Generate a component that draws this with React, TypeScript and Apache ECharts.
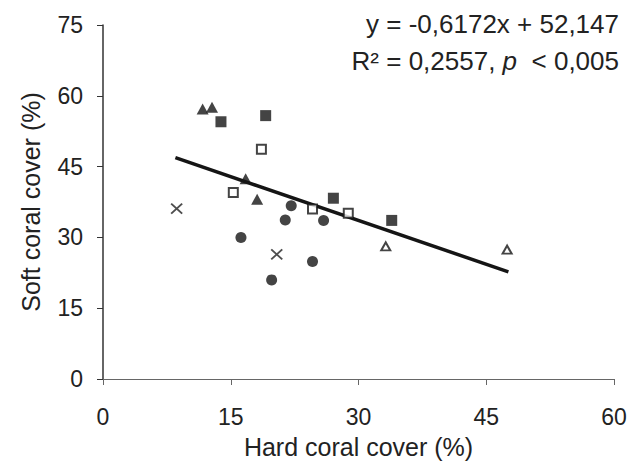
import React, { useEffect, useRef } from "react";
import * as echarts from "echarts";

const FONT = "'Liberation Sans', Arial, sans-serif";

const xTicks = [0, 15, 30, 45, 60];
const yTicks = [0, 15, 30, 45, 60, 75];

const filledTriangles: [number, number][] = [
  [11.7, 57.2],
  [12.8, 57.6],
  [16.75, 42.4],
  [18.1, 38.1],
];
const filledSquares: [number, number][] = [
  [13.85, 54.5],
  [19.1, 55.8],
  [27.05, 38.3],
  [33.9, 33.6],
];
const openSquares: [number, number][] = [
  [18.6, 48.7],
  [15.3, 39.5],
  [24.6, 36.0],
  [28.8, 35.1],
];
const crosses: [number, number][] = [
  [8.65, 36.1],
  [20.4, 26.4],
];
const circles: [number, number][] = [
  [22.1, 36.7],
  [21.4, 33.7],
  [25.9, 33.6],
  [16.2, 30.0],
  [24.6, 24.9],
  [19.8, 21.0],
];
const openTriangles: [number, number][] = [
  [33.2, 28.1],
  [47.45, 27.4],
];
const trendLine: [number, number][] = [
  [8.5, 46.9],
  [47.6, 22.7],
];

const equationText = "y = -0,6172x + 52,147";
const r2Text = "R² = 0,2557, {i|p}  < 0,005";

export default function App() {
  const ref = useRef<HTMLDivElement>(null);

  useEffect(() => {
    if (!ref.current) return;
    const chart = echarts.init(ref.current, undefined, { renderer: "svg" });
    const ink = "#151515";
    chart.setOption({
      animation: false,
      backgroundColor: "#ffffff",
      textStyle: { fontFamily: FONT },
      grid: { left: 103, right: 17, top: 25, bottom: 80, containLabel: false },
      xAxis: {
        type: "value",
        min: xTicks[0],
        max: xTicks[xTicks.length - 1],
        interval: 15,
        name: "Hard coral cover (%)",
        nameLocation: "middle",
        nameGap: 55,
        nameTextStyle: { fontSize: 25, color: "#222", fontFamily: FONT },
        axisLine: { show: true, onZero: false, lineStyle: { color: "#666", width: 1.2 } },
        axisTick: { show: true, inside: false, length: 6, lineStyle: { color: "#666" } },
        axisLabel: { fontSize: 23, color: "#222", margin: 26, fontFamily: FONT },
        splitLine: { show: false },
      },
      yAxis: {
        type: "value",
        min: yTicks[0],
        max: yTicks[yTicks.length - 1],
        interval: 15,
        name: "Soft coral cover (%)",
        nameLocation: "middle",
        nameGap: 60,
        nameRotate: 90,
        nameTextStyle: { fontSize: 25, color: "#222", fontFamily: FONT },
        axisLine: { show: true, onZero: false, lineStyle: { color: "#333", width: 1.5 } },
        axisTick: { show: true, inside: false, length: 6, lineStyle: { color: "#333" } },
        axisLabel: { fontSize: 23, color: "#222", margin: 20, fontFamily: FONT },
        splitLine: { show: false },
      },
      graphic: [
        {
          type: "text",
          right: 12,
          top: 11,
          style: {
            text: equationText,
            fontSize: 26,
            fontFamily: FONT,
            fill: "#222",
            align: "right",
          },
        },
        {
          type: "text",
          right: 12,
          top: 48,
          style: {
            text: r2Text,
            fontSize: 26,
            fontFamily: FONT,
            fill: "#222",
            align: "right",
            rich: {
              i: { fontStyle: "italic", fontSize: 26, fontFamily: FONT, fill: "#222" },
            },
          },
        },
      ],
      series: [
        {
          type: "line",
          data: trendLine,
          symbol: "none",
          lineStyle: { color: ink, width: 3.5 },
          z: 1,
        },
        {
          type: "scatter",
          data: filledTriangles,
          symbol: "triangle",
          symbolSize: [12, 11],
          itemStyle: { color: ink },
          z: 3,
        },
        {
          type: "scatter",
          data: filledSquares,
          symbol: "rect",
          symbolSize: 11,
          itemStyle: { color: ink },
          z: 3,
        },
        {
          type: "scatter",
          data: openSquares,
          symbol: "rect",
          symbolSize: 9,
          itemStyle: { color: "#ffffff", borderColor: ink, borderWidth: 2 },
          z: 3,
        },
        {
          type: "scatter",
          data: crosses,
          symbol: "path://M0,0L10,10M10,0L0,10",
          symbolSize: [11, 10],
          itemStyle: { color: "#222", borderColor: "#222", borderWidth: 1.8 },
          z: 3,
        },
        {
          type: "scatter",
          data: circles,
          symbol: "circle",
          symbolSize: 11,
          itemStyle: { color: ink },
          z: 3,
        },
        {
          type: "scatter",
          data: openTriangles,
          symbol: "triangle",
          symbolSize: [9, 8],
          itemStyle: { color: "#ffffff", borderColor: ink, borderWidth: 2 },
          z: 3,
        },
      ],
    });
    return () => chart.dispose();
  }, []);

  return (
    <div
      ref={ref}
      style={{ position: "absolute", left: 0, top: 0, width: 631, height: 464, background: "#fff" }}
    />
  );
}
